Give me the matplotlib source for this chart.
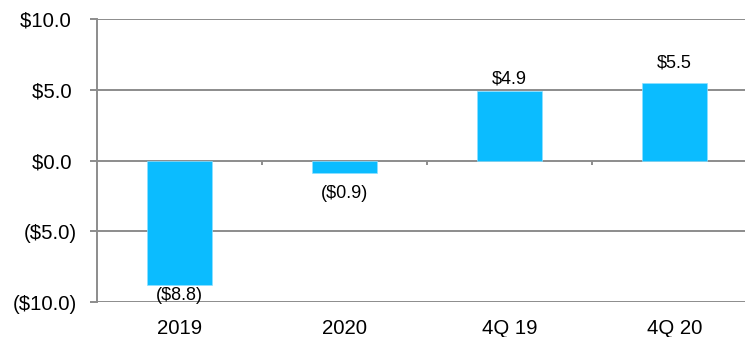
import matplotlib
matplotlib.use("Agg")
import matplotlib.pyplot as plt
from matplotlib.ticker import FuncFormatter

plt.rcParams['font.family'] = ['Liberation Sans', 'DejaVu Sans']

# Data
categories = ["2019", "2020", "4Q 19", "4Q 20"]
values = [-8.8, -0.9, 4.9, 5.5]
y_ticks = [-10.0, -5.0, 0.0, 5.0, 10.0]

# Styling
bar_color = "#0BBCFF"
grid_color = "#8C8C8C"
label_offsets_px = [-15, -25, 8, 15]   # vertical offset of each value label (pixels)


def money(v, pos=None):
    if v < 0:
        return f"(${-v:.1f})"
    return f"${v:.1f} "


W, H, DPI = 745, 337, 100
fig = plt.figure(figsize=(W / DPI, H / DPI), dpi=DPI)
# plot area runs slightly past the right edge of the canvas
ax = fig.add_axes([97 / W, 35 / H, 660 / W, 283 / H])

x = range(len(categories))
ax.bar(x, values, width=0.395, color=bar_color, edgecolor="#8FE0FF",
       linewidth=0.5, zorder=3)

ax.set_xlim(-0.5, len(categories) - 0.5)
ax.set_ylim(y_ticks[0], y_ticks[-1])
ax.set_yticks(y_ticks)
ax.yaxis.set_major_formatter(FuncFormatter(money))
ax.grid(axis="y", color=grid_color, linewidth=1.4, zorder=1)
ax.tick_params(axis="y", length=5, width=1.4, color=grid_color,
               labelsize=14.7, pad=9.5, labelcolor="#000000")

ax.set_xticks(list(x))
ax.set_xticklabels(categories)
ax.tick_params(axis="x", length=0, labelsize=14.7, pad=12.5, labelcolor="#000000")

for side in ("top", "right", "bottom"):
    ax.spines[side].set_visible(False)
ax.spines["left"].set_color(grid_color)
ax.spines["left"].set_linewidth(1.4)

# category boundary ticks on the zero line
bounds = [i + 0.5 for i in range(len(categories) - 1)]
ax.vlines(bounds, -0.35, 0, color=grid_color, linewidth=1.4, zorder=2)

# value labels
for xi, v, off in zip(x, values, label_offsets_px):
    ax.annotate(money(v).strip(), (xi, v), xytext=(0, off),
                textcoords="offset pixels", ha="center", va="baseline",
                fontsize=13, color="#000000", zorder=4)

fig.savefig("out.png", dpi=DPI)
